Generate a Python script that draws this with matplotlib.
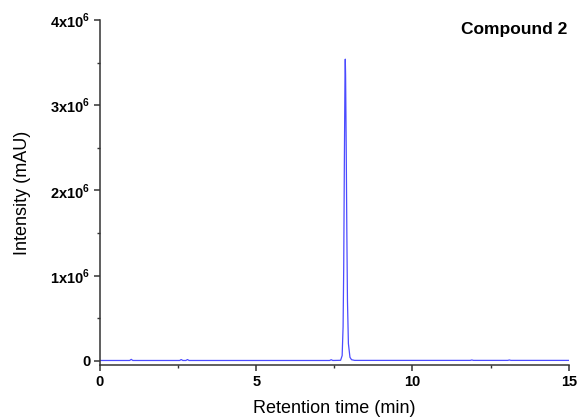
import matplotlib
matplotlib.use("Agg")
import matplotlib.pyplot as plt
from matplotlib.ticker import MultipleLocator, FixedLocator, FixedFormatter

plt.rcParams['font.family'] = ['Liberation Sans', 'DejaVu Sans']
plt.rcParams['mathtext.fontset'] = 'custom'
plt.rcParams['mathtext.rm'] = 'Liberation Sans'
plt.rcParams['mathtext.bf'] = 'Liberation Sans:bold'

# chromatogram trace (min, mAU)
time_min = [0.0, 0.95, 1.0, 1.05, 2.55, 2.6, 2.65, 2.75, 2.8, 2.85,
            7.35, 7.4, 7.45, 7.70, 7.75, 7.78, 7.80, 7.82, 7.84, 7.85,
            7.86, 7.88, 7.90, 7.92, 7.95, 8.00, 8.05, 8.15,
            11.85, 11.9, 11.95, 13.05, 13.1, 13.15, 15.0]
intensity = [3000, 3000, 16000, 3000, 3000, 14000, 3000, 3000, 14000, 3000,
             3000, 12000, 3000, 5000, 60000, 400000, 1100000, 2300000, 3300000, 3540000,
             3350000, 2500000, 1500000, 700000, 200000, 40000, 12000, 4000,
             4000, 9000, 4000, 4000, 9000, 4000, 4000]

y_ticks = [0, 1e6, 2e6, 3e6, 4e6]
y_labels = ['0', r'1x10$^{\mathbf{6}}$', r'2x10$^{\mathbf{6}}$',
            r'3x10$^{\mathbf{6}}$', r'4x10$^{\mathbf{6}}$']
x_ticks = [0, 5, 10, 15]

fig = plt.figure(figsize=(5.79, 4.19), dpi=100)
ax = fig.add_axes([0.1727, 0.1289, 0.8095, 0.8234])

ax.plot(time_min, intensity, color='#4b4bff', lw=0.9)

ax.set_xlim(0, 15)
ax.set_ylim(-0.05e6, 4e6)
ax.xaxis.set_major_locator(FixedLocator(x_ticks))
ax.xaxis.set_minor_locator(MultipleLocator(2.5))
ax.yaxis.set_major_locator(FixedLocator(y_ticks))
ax.yaxis.set_major_formatter(FixedFormatter(y_labels))
ax.yaxis.set_minor_locator(MultipleLocator(0.5e6))

for s in ['top', 'right']:
    ax.spines[s].set_visible(False)
for s in ['left', 'bottom']:
    ax.spines[s].set_linewidth(1.1)
    ax.spines[s].set_color('#333333')

ax.tick_params(which='major', direction='out', length=4.5, width=1.1,
               labelsize=10.5, colors='#333333', labelcolor='black', pad=2.5)
ax.tick_params(which='minor', direction='out', length=2.5, width=1.0, colors='#333333')
for lbl in ax.get_xticklabels() + ax.get_yticklabels():
    lbl.set_fontweight('bold')

ax.set_xlabel('Retention time (min)', fontsize=13, labelpad=8)
ax.set_ylabel('Intensity (mAU)', fontsize=13, labelpad=14)

ax.text(0.998, 0.993, 'Compound 2', transform=ax.transAxes, ha='right', va='top',
        fontsize=12.5, fontweight='bold')

fig.savefig('out.png', dpi=100)
